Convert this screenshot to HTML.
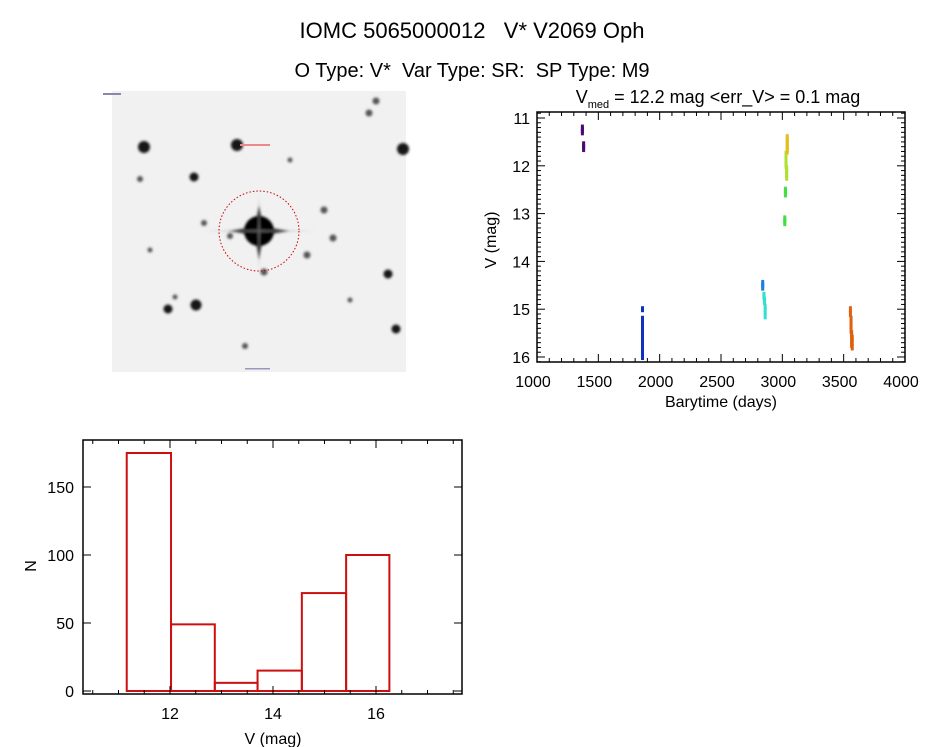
<!DOCTYPE html>
<html><head><meta charset="utf-8"><style>
body{margin:0;background:#fff;width:944px;height:747px;overflow:hidden;font-family:"Liberation Sans",sans-serif}
svg{position:absolute;left:0;top:0}
text{font-family:"Liberation Sans",sans-serif;fill:#000}
</style></head><body>
<svg id="s" width="944" height="747">
<defs><filter id="bl" x="-50%" y="-50%" width="200%" height="200%"><feGaussianBlur stdDeviation="1.3"/></filter></defs>
<text x="472" y="38" font-size="22" text-anchor="middle" xml:space="preserve">IOMC 5065000012   V* V2069 Oph</text>
<text x="472" y="77" font-size="20" text-anchor="middle" xml:space="preserve">O Type: V*  Var Type: SR:  SP Type: M9</text>
<g id="img">
<rect x="112" y="91" width="294" height="281" fill="#f1f1f1"/>
</g>
<text x="718" y="103" font-size="18" text-anchor="middle">V<tspan font-size="11" dy="5">med</tspan><tspan dy="-5"> = 12.2 mag &lt;err_V&gt; = 0.1 mag</tspan></text>
<g id="lc"></g>
<g id="hist"></g>
</svg>
<script>
const NS="http://www.w3.org/2000/svg";
function el(p,t,a){const e=document.createElementNS(NS,t);for(const k in a)e.setAttribute(k,a[k]);p.appendChild(e);return e;}
const img=document.getElementById('img');
const starX=[144,237,403,194,168,196,388,396,376,369,324,333,307,264,140,245,204,230,175,150,290,350];
const starY=[147,145,149,177,309,305,274,329,101,113,210,238,255,272,179,346,223,236,297,250,160,300];
const starR=[6,6,6,4.5,4.5,5.5,4.5,4.5,3.5,3.5,3.5,3.5,3.5,3.5,3,3,3,3,2.5,2.5,2.5,2.5];
const sg=el(img,'g',{filter:'url(#bl)'});
for(let i=0;i<starX.length;i++){const c=el(sg,'circle',{cx:starX[i],cy:starY[i],r:starR[i],fill:i<8?'#151515':'#555'});

}
el(sg,'path',{d:'M259 205 L263 227 L290 231 L263 235 L259 260 L255 235 L228 231 L255 227Z',fill:'#000'});
el(sg,'circle',{cx:259,cy:231,r:15,fill:'#000'});
el(sg,'path',{d:'M259 195 L260 230 L315 231 L260 232 L259 270 L258 232 L205 231 L258 230Z',fill:'#999',opacity:'0.6'});
el(img,'circle',{cx:259,cy:231,r:40,fill:'none',stroke:'#c00',"stroke-width":1,"stroke-dasharray":"1.5 2"});
el(img,'rect',{x:240,y:144,width:30,height:2,fill:'#e88'});
el(img,'rect',{x:103,y:93,width:18,height:2,fill:'#88a'});
el(img,'rect',{x:245,y:368,width:25,height:1.5,fill:'#99b'});

const lcT=[1370,1370,1370,1380,1380,1380,
1860,1860,1860,1860,1860,1860,1860,1860,1860,1860,1860,1860,1860,1860,1860,1860,1860,1860,
2840,2840,2840,2850,2850,2855,2855,2860,2860,2860,
3020,3020,3020,3025,3025,3025,
3030,3030,3030,3030,3030,3030,3035,3035,3035,3035,3035,
3040,3040,3040,3040,3040,3040,3040,
3555,3555,3560,3560,3560,3560,3560,3560,3565,3565,3565,3565,3565,3565,3570,3570,3570];
const lcV=[11.2,11.25,11.3,11.55,11.6,11.65,
15.0,15.2,15.25,15.3,15.35,15.4,15.45,15.5,15.55,15.6,15.65,15.7,15.75,15.8,15.85,15.9,15.95,16.0,
14.45,14.5,14.55,14.7,14.75,14.8,14.85,14.95,15.05,15.15,
13.1,13.15,13.2,12.5,12.55,12.6,
11.75,11.8,11.85,11.9,11.95,12.0,12.05,12.1,12.15,12.2,12.25,
11.4,11.45,11.5,11.55,11.6,11.65,11.7,
15.0,15.1,15.2,15.25,15.3,15.35,15.4,15.45,15.5,15.55,15.6,15.65,15.7,15.75,15.6,15.7,15.8];
const lcGroup=[0,0,0,0,0,0, 1,1,1,1,1,1,1,1,1,1,1,1,1,1,1,1,1,1, 2,2,2,3,3,3,3,3,3,3, 4,4,4,4,4,4, 5,5,5,5,5,5,5,5,5,5,5, 6,6,6,6,6,6,6, 7,7,7,7,7,7,7,7,7,7,7,7,7,7,7,7,7];
const lcColors=['#4a0a70','#1030c0','#2080e0','#30e0d0','#40e040','#b0e030','#e0c020','#e06010'];
const lcXTicks=[1000,1500,2000,2500,3000,3500,4000];
const lcYTicks=[11,12,13,14,15,16];
const L=537,R=905,T=112,B=362;
const lx=t=>L+(t-1000)*(R-L)/3000;
const ly=v=>118+(v-11)*(357-118)/5;
const lc=document.getElementById('lc');
for(let i=0;i<lcT.length;i++){const r=el(lc,'rect',{x:lx(lcT[i])-1.5,y:ly(lcV[i])-3,width:3,height:6,fill:lcColors[lcGroup[i]]});

}
el(lc,'rect',{x:L,y:T,width:R-L,height:B-T,fill:'none',stroke:'#000','stroke-width':1.5});
for(let t=1000;t<=4000;t+=100){const m=t%500==0?8:4;el(lc,'line',{x1:lx(t),x2:lx(t),y1:B,y2:B-m,stroke:'#000'});el(lc,'line',{x1:lx(t),x2:lx(t),y1:T,y2:T+m,stroke:'#000'});}
for(let k=0;k<=52;k++){const v=10.9+k*0.1;const y=ly(v);if(y<T||y>B)continue;const m=Math.abs(v-Math.round(v))<0.01?8:4;el(lc,'line',{x1:L,x2:L+m,y1:y,y2:y,stroke:'#000'});el(lc,'line',{x1:R,x2:R-m,y1:y,y2:y,stroke:'#000'});}
lcXTicks.forEach(t=>{const e=el(lc,'text',{x:lx(t)-4,y:387,'font-size':16,'text-anchor':'middle'});e.textContent=t;});
lcYTicks.forEach(v=>{const e=el(lc,'text',{x:530,y:ly(v)+6,'font-size':16,'text-anchor':'end'});e.textContent=v;});
{const e=el(lc,'text',{x:721,y:407,'font-size':16,'text-anchor':'middle'});e.textContent='Barytime (days)';}
{const e=el(lc,'text',{x:0,y:0,'font-size':16,'text-anchor':'middle',transform:'translate(496,240) rotate(-90)'});e.textContent='V (mag)';}

const binEdges=[11.16,12.02,12.87,13.7,14.56,15.42,16.26];
const counts=[175,49,6,15,72,100];
const hXTicks=[12,14,16];
const hYTicks=[0,50,100,150];
const HL=83,HR=462,HT=440,HB=694;
const hx=v=>170+(v-12)*(376-170)/4;
const hy=n=>691-n*(691-487)/150;
const h=document.getElementById('hist');
el(h,'rect',{x:HL,y:HT,width:HR-HL,height:HB-HT,fill:'none',stroke:'#000','stroke-width':1.5});
for(let i=0;i<counts.length;i++){const r=el(h,'rect',{x:hx(binEdges[i]),y:hy(counts[i]),width:hx(binEdges[i+1])-hx(binEdges[i]),height:hy(0)-hy(counts[i]),fill:'none',stroke:'#cc1010','stroke-width':2});

}
for(let v=10.5;v<=17.5;v+=0.5){const m=Math.abs(v%2)<0.01?8:4;el(h,'line',{x1:hx(v),x2:hx(v),y1:HB,y2:HB-m,stroke:'#000'});el(h,'line',{x1:hx(v),x2:hx(v),y1:HT,y2:HT+m,stroke:'#000'});}
hYTicks.forEach(n=>{el(h,'line',{x1:HL,x2:HL+8,y1:hy(n),y2:hy(n),stroke:'#000'});el(h,'line',{x1:HR,x2:HR-8,y1:hy(n),y2:hy(n),stroke:'#000'});
const e=el(h,'text',{x:74,y:hy(n)+6,'font-size':16,'text-anchor':'end'});e.textContent=n;});
hXTicks.forEach(v=>{const e=el(h,'text',{x:hx(v),y:719,'font-size':16,'text-anchor':'middle'});e.textContent=v;});
{const e=el(h,'text',{x:273,y:744,'font-size':16,'text-anchor':'middle'});e.textContent='V (mag)';}
{const e=el(h,'text',{x:0,y:0,'font-size':16,'text-anchor':'middle',transform:'translate(36,566) rotate(-90)'});e.textContent='N';}
</script>
</body></html>
